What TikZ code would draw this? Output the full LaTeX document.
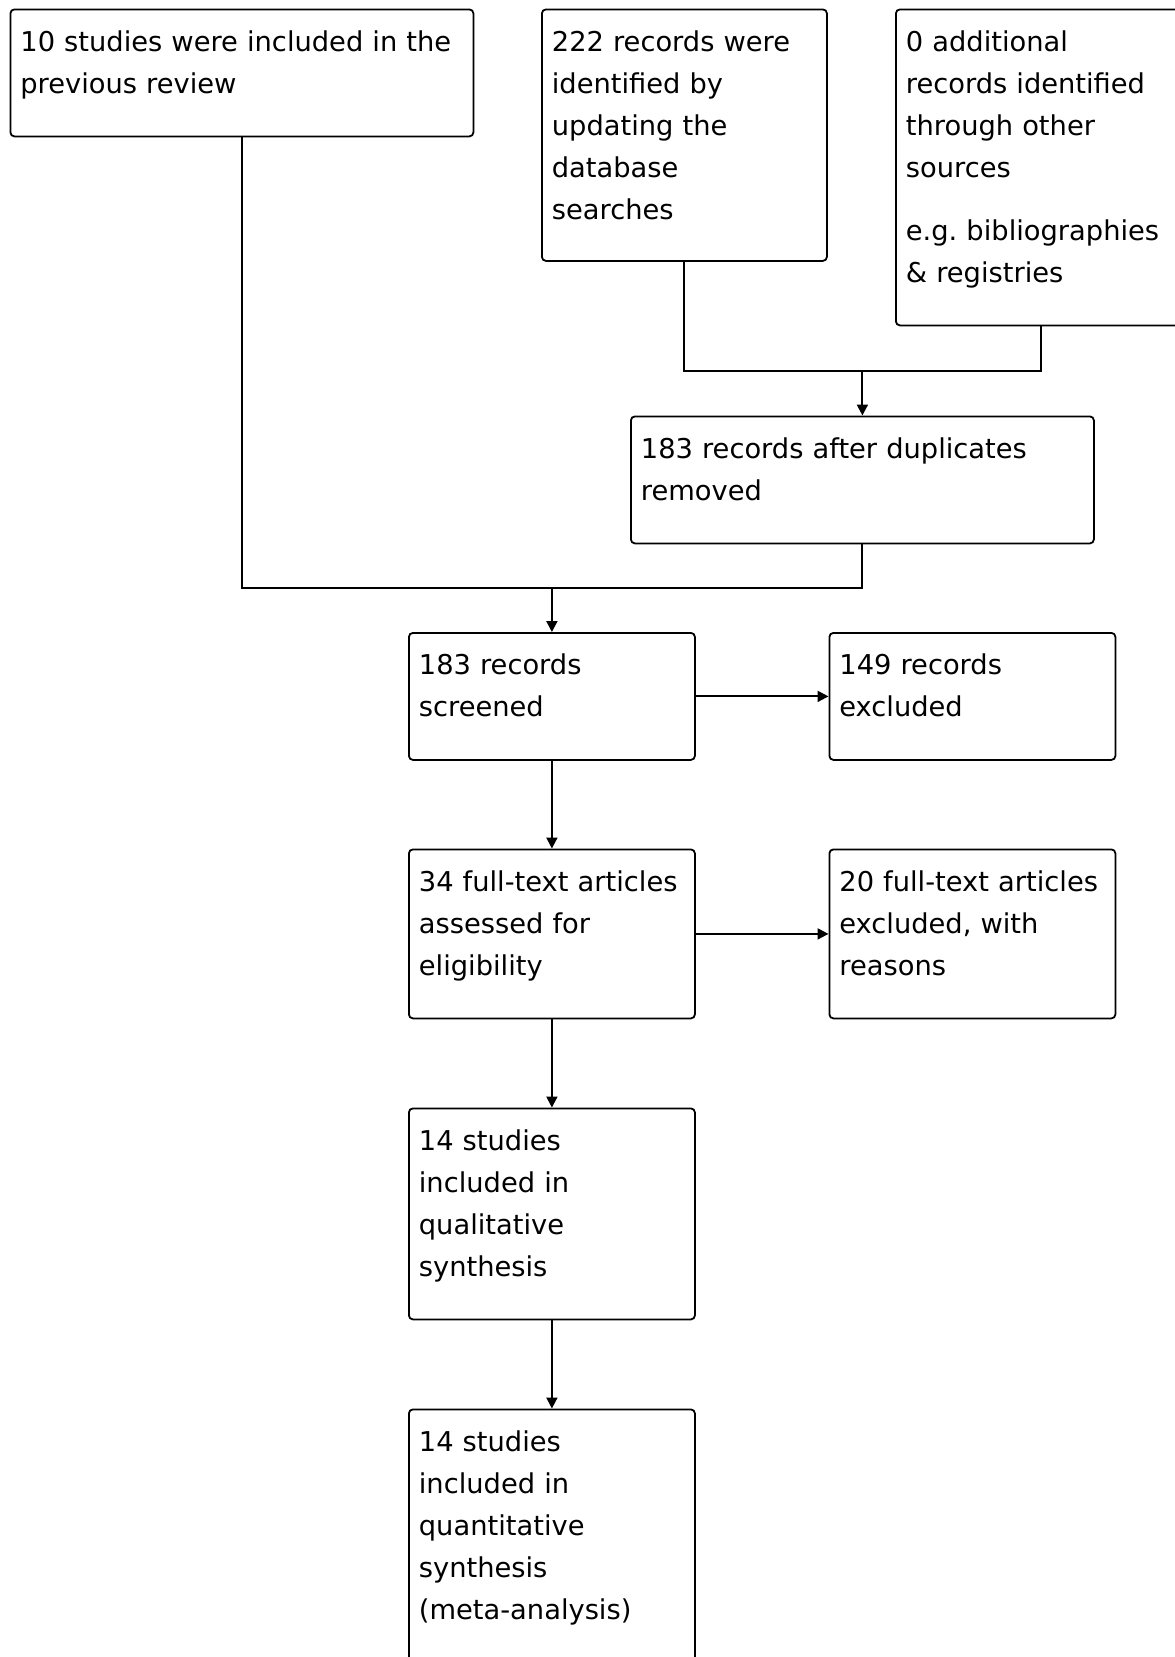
\documentclass[tikz,border=0pt]{standalone}
\usepackage{fontspec}
\setmainfont{DejaVu Sans}
\usetikzlibrary{arrows.meta}
\frenchspacing

\begin{document}
\begin{tikzpicture}[x=1pt, y=-1pt,
    flowbox/.style={draw, line width=1.8pt, rounded corners=4pt, anchor=north west,
        align=left, inner xsep=10pt, inner ysep=0pt, text height=42pt,
        font=\fontsize{27.3}{42}\selectfont},
    link/.style={line width=2pt},
    arrow/.style={link, -{Triangle[width=11pt,length=11pt]}}]
\useasboundingbox (0,0) rectangle (1175,1657);

% identification
\node[flowbox, text width=443pt, text depth=85pt] (prev) at (9.5,8.5)
    {10 studies were included in the\\previous review};
\node[flowbox, text width=265pt, text depth=209.5pt] (db) at (541,8.5)
    {222 records were\\identified by\\updating the\\database\\searches};
\node[flowbox, text width=270pt, text depth=274pt] (other) at (895,8.5)
    {0 additional\\records identified\\through other\\sources\\[21pt]e.g. bibliographies\\\& registries};
\node[flowbox, text width=443pt, text depth=85pt] (dedup) at (630,415.5)
    {183 records after duplicates\\removed};

% screening and eligibility
\node[flowbox, text width=266pt, text depth=85pt] (screened) at (408,632)
    {183 records\\screened};
\node[flowbox, text width=266pt, text depth=85pt] (excl) at (828.5,632)
    {149 records\\excluded};
\node[flowbox, text width=266pt, text depth=127pt] (fulltext) at (408,848.5)
    {34 full-text articles\\assessed for\\eligibility};
\node[flowbox, text width=266pt, text depth=127pt] (ftexcl) at (828.5,848.5)
    {20 full-text articles\\excluded, with\\reasons};

% included
\node[flowbox, text width=266pt, text depth=169pt] (qual) at (408,1107.5)
    {14 studies\\included in\\qualitative\\synthesis};
\node[flowbox, text width=266pt, text depth=211pt] (quant) at (408,1408.5)
    {14 studies\\included in\\quantitative\\synthesis\\(meta-analysis)};

% connectors
\coordinate (mergeA) at (dedup.north |- 0,371);
\coordinate (mergeB) at (screened.north |- 0,588);
\draw[link] (db.south) |- (mergeA) -| (other.south);
\draw[arrow] (mergeA) -- (dedup.north);
\draw[link] (prev.south) |- (mergeB) -| (dedup.south);
\draw[arrow] (mergeB) -- (screened.north);
\draw[arrow] (screened.east) -- (excl.west);
\draw[arrow] (screened.south) -- (fulltext.north);
\draw[arrow] (fulltext.east) -- (ftexcl.west);
\draw[arrow] (fulltext.south) -- (qual.north);
\draw[arrow] (qual.south) -- (quant.north);
\end{tikzpicture}
\end{document}
